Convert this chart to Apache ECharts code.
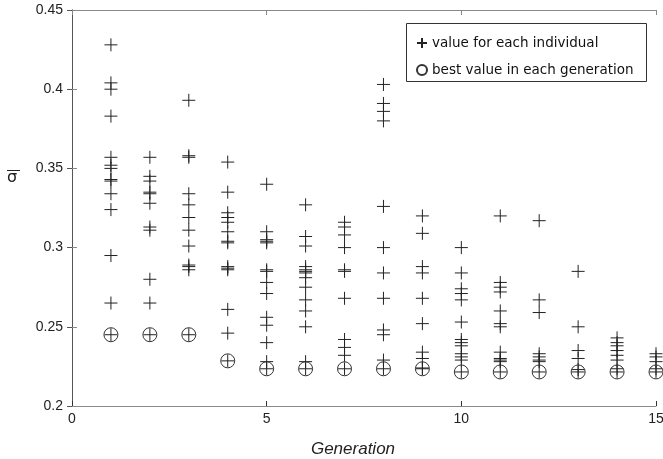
<!DOCTYPE html>
<html>
<head>
<meta charset="utf-8">
<script src="https://cdn.jsdelivr.net/npm/echarts@6/dist/echarts.min.js"></script>
<style>
html,body{margin:0;padding:0;background:#fff;}
#chart{width:663px;height:459px;}
</style>
</head>
<body>
<div id="chart"></div>
<script>
// Generations (x categories)
const generations = [1,2,3,4,5,6,7,8,9,10,11,12,13,14,15];

// Value for each individual, one list per generation
const gen1  = [0.428,0.404,0.400,0.383,0.357,0.352,0.350,0.343,0.342,0.334,0.324,0.295,0.265,0.245];
const gen2  = [0.357,0.345,0.342,0.335,0.334,0.328,0.313,0.311,0.280,0.265,0.245];
const gen3  = [0.393,0.358,0.357,0.334,0.327,0.319,0.311,0.301,0.289,0.288,0.286,0.245];
const gen4  = [0.354,0.335,0.322,0.319,0.316,0.310,0.304,0.303,0.288,0.287,0.286,0.261,0.246,0.2285];
const gen5  = [0.340,0.310,0.305,0.304,0.303,0.286,0.285,0.278,0.271,0.256,0.251,0.240,0.228,0.2235];
const gen6  = [0.327,0.307,0.301,0.288,0.286,0.285,0.284,0.281,0.275,0.267,0.260,0.250,0.228,0.2235];
const gen7  = [0.316,0.313,0.308,0.300,0.286,0.285,0.268,0.242,0.237,0.232,0.2235];
const gen8  = [0.403,0.391,0.386,0.380,0.326,0.300,0.284,0.268,0.248,0.245,0.229,0.2235];
const gen9  = [0.320,0.309,0.288,0.284,0.268,0.252,0.234,0.230,0.224,0.2235];
const gen10 = [0.300,0.284,0.274,0.271,0.267,0.253,0.242,0.240,0.238,0.233,0.231,0.229,0.2215];
const gen11 = [0.320,0.278,0.275,0.272,0.260,0.252,0.250,0.234,0.230,0.229,0.228,0.2215];
const gen12 = [0.317,0.267,0.259,0.233,0.231,0.229,0.228,0.2215];
const gen13 = [0.285,0.250,0.235,0.230,0.223,0.2215];
const gen14 = [0.243,0.240,0.238,0.235,0.232,0.229,0.2235,0.2215];
const gen15 = [0.233,0.231,0.228,0.2235,0.2215];

// Best value in each generation
const bestValues = [0.245,0.245,0.245,0.2285,0.2235,0.2235,0.2235,0.2235,0.2235,0.2215,0.2215,0.2215,0.2215,0.2215,0.2215];

// Tick labels
const xTicks = [0,5,10,15];
const yTicks = [0.2,0.25,0.3,0.35,0.4,0.45];

const seriesNames = ['value for each individual','best value in each generation'];

const individuals = [gen1,gen2,gen3,gen4,gen5,gen6,gen7,gen8,gen9,gen10,gen11,gen12,gen13,gen14,gen15];
const indData = [];
individuals.forEach((vals, i) => vals.forEach(v => indData.push([generations[i], v])));
const bestData = generations.map((g, i) => [g, bestValues[i]]);

const plusPath = 'path://M0,6L12,6M6,0L6,12';
const axisGray = '#8a8a8a';
const labelFont = 'Liberation Sans';

const chart = echarts.init(document.getElementById('chart'), null, {renderer:'canvas'});
const xMin = xTicks[0], xMax = xTicks[xTicks.length-1], xStep = xTicks[1]-xTicks[0];
const yMin = yTicks[0], yMax = yTicks[yTicks.length-1], yStep = 0.05;

chart.setOption({
  animation: false,
  backgroundColor: '#fff',
  grid: {left: 72, top: 10, right: 7, bottom: 53, containLabel: false, outerBoundsMode: 'none'},
  xAxis: [{
    type: 'value', min: xMin, max: xMax, interval: xStep, position: 'bottom',
    axisLine: {show: true, lineStyle: {color: axisGray, width: 1}},
    axisTick: {show: true, inside: true, length: 5, lineStyle: {color: '#333'}},
    splitLine: {show: false},
    axisLabel: {color: '#222', fontSize: 14, fontFamily: labelFont, margin: 6},
    name: 'Generation', nameLocation: 'middle', nameGap: 35,
    nameTextStyle: {color: '#222', fontSize: 17, fontStyle: 'italic', fontFamily: labelFont, padding: [0, 22, 0, 0]}
  }, {
    type: 'value', min: xMin, max: xMax, interval: xStep, position: 'top',
    axisLine: {show: true, lineStyle: {color: axisGray, width: 1}},
    axisTick: {show: true, inside: true, length: 5, lineStyle: {color: '#888'}},
    splitLine: {show: false},
    axisLabel: {show: false}
  }],
  yAxis: [{
    type: 'value', min: yMin, max: yMax, interval: yStep, position: 'left',
    axisLine: {show: true, lineStyle: {color: '#777', width: 1}},
    axisTick: {show: true, inside: true, length: 5, lineStyle: {color: '#888'}},
    splitLine: {show: false},
    axisLabel: {color: '#222', fontSize: 14, fontFamily: labelFont, margin: 9,
      formatter: v => String(+v.toFixed(2))}
  }, {
    type: 'value', min: yMin, max: yMax, interval: yStep, position: 'right',
    axisLine: {show: true, lineStyle: {color: '#555', width: 1}},
    axisTick: {show: true, inside: true, length: 5, lineStyle: {color: '#555'}},
    splitLine: {show: false},
    axisLabel: {show: false}
  }],
  legend: {
    orient: 'vertical', left: 411, top: 31, z: 5,
    itemWidth: 10, itemHeight: 10, itemGap: 13,
    textStyle: {color: '#111', fontSize: 13.5, fontFamily: 'DejaVu Sans', lineHeight: 14},
    data: [
      {name: seriesNames[0], icon: plusPath},
      {name: seriesNames[1], icon: 'circle'}
    ]
  },
  graphic: [
    {type: 'rect', z: 1, shape: {x: 406.5, y: 23.5, width: 240, height: 58},
      style: {fill: '#fff', stroke: '#333', lineWidth: 1}},
    {type: 'text', z: 5, style: {text: 'σ', x: 7, y: 177.5, verticalAlign: 'middle',
      font: '16px "DejaVu Sans"', fill: '#222'}},
    {type: 'line', z: 5, shape: {x1: 7, y1: 170.5, x2: 20, y2: 170.5},
      style: {stroke: '#222', lineWidth: 1}}
  ],
  series: [{
    name: seriesNames[0], type: 'scatter', data: indData,
    symbol: plusPath, symbolSize: 13,
    itemStyle: {color: 'rgba(0,0,0,0)', borderColor: '#222', borderWidth: 1, opacity: 1},
    emphasis: {disabled: true}, z: 3
  }, {
    name: seriesNames[1], type: 'scatter', data: bestData,
    symbol: 'circle', symbolSize: 14,
    itemStyle: {color: 'rgba(0,0,0,0)', borderColor: '#333', borderWidth: 1, opacity: 1},
    emphasis: {disabled: true}, z: 3
  }]
});
</script>
</body>
</html>
